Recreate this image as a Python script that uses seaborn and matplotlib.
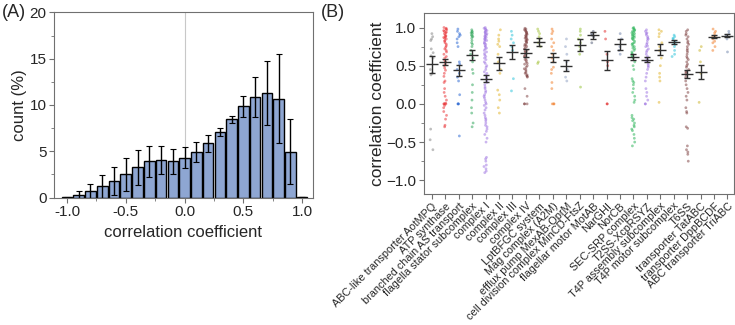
import numpy as np
import pandas as pd
import matplotlib
matplotlib.use("Agg")
import matplotlib.pyplot as plt
import seaborn as sns
from matplotlib.ticker import MultipleLocator

sns.set_style("ticks")
plt.rcParams['font.family'] = ['Liberation Sans', 'DejaVu Sans']

# --- (A) histogram of correlation coefficients ---
bin_centers = [-1.0, -0.9, -0.8, -0.7, -0.6, -0.5, -0.4, -0.3, -0.2, -0.1, 0.0,
               0.1, 0.2, 0.3, 0.4, 0.5, 0.6, 0.7, 0.8, 0.9, 1.0]
count_pct = [0.05, 0.3, 0.7, 1.2, 1.8, 2.5, 3.25, 3.9, 4.05, 3.9, 4.3,
             4.9, 5.85, 7.1, 8.45, 9.85, 10.85, 11.25, 10.65, 4.95, 0.05]
count_err = [0.05, 0.45, 0.8, 1.2, 1.55, 1.8, 1.9, 1.7, 1.5, 1.35, 1.15,
             1.05, 0.95, 0.45, 0.35, 1.15, 2.2, 3.45, 4.8, 3.5, 0.0]

# --- (B) correlation coefficient per complex ---
complexes = ["ABC-like transporter AotMPQ", "ATP synthase", "branched chain AS transport",
             "flagella stator subcomplex", "complex I", "complex II", "complex III",
             "complex IV", "LptBFGC system", "Mag complex (A2M)", "efflux pump MexAB-OprM",
             "cell division complex MinCD-FtsZ", "flagellar motor MotAB", "NarGHI", "NorCB",
             "SEC-SRP complex", "T2SS-XcpRSYZ", "T4P assembly subcomplex",
             "T4P motor subcomplex", "T6SS", "transporter TatABC", "transporter DppBCDF",
             "ABC transporter TriABC"]
complex_means = [0.52, 0.55, 0.44, 0.64, 0.33, 0.53, 0.68, 0.67, 0.81, 0.61, 0.50, 0.77,
                 0.90, 0.57, 0.78, 0.61, 0.58, 0.71, 0.81, 0.39, 0.42, 0.88, 0.89]
complex_sem = [0.11, 0.04, 0.075, 0.06, 0.045, 0.08, 0.095, 0.05, 0.055, 0.06, 0.07, 0.075,
               0.045, 0.12, 0.075, 0.04, 0.03, 0.07, 0.02, 0.05, 0.095, 0.02, 0.02]
complex_colors = ['#7f7f7f', '#e8262a', '#1f5fd0', '#22a050', '#9a6ee0', '#e0b020',
                  '#20c0d8', '#7a3a3a', '#a0c030', '#f07820', '#8a9cc0', '#90c030',
                  '#4a5570', '#e02020', '#6a7fa8', '#20b050', '#9a6ee0', '#e0b020',
                  '#20c0d8', '#7a3a3a', '#c8b020', '#f07820', '#6a80a8']

pts_aotmpq = [0.92, 0.88, 0.85, 0.83, 0.72, 0.67, 0.63, 0.6, 0.45, 0.4, 0.38, -0.33, -0.47, -0.6]
pts_atp = [1.0, 0.99, 0.98, 0.97, 0.96, 0.95, 0.94, 0.93, 0.92, 0.9, 0.89, 0.88, 0.87, 0.86,
           0.85, 0.83, 0.82, 0.8, 0.78, 0.76, 0.74, 0.72, 0.7, 0.68, 0.65, 0.62, 0.6, 0.57,
           0.55, 0.52, 0.5, 0.47, 0.44, 0.4, 0.36, 0.3, 0.28, 0.2, 0.15, 0.1, 0.05, 0.01,
           0.0, 0.0, 0.0, -0.02, -0.05, -0.1, -0.15, -0.2, -0.28, -0.3]
pts_branched = [0.98, 0.95, 0.92, 0.9, 0.88, 0.85, 0.8, 0.75, 0.55, 0.52, 0.45, 0.4, 0.35,
                0.3, 0.12, 0.0, 0.0, 0.0, -0.42]
pts_stator = [0.97, 0.95, 0.94, 0.93, 0.92, 0.9, 0.89, 0.88, 0.86, 0.83, 0.8, 0.78, 0.75,
              0.7, 0.65, 0.6, 0.55, 0.45, 0.4, 0.25, 0.15, 0.05, -0.05, -0.12, -0.25, -0.3]
pts_c1 = [1.0, 0.99, 0.98, 0.97, 0.96, 0.95, 0.94, 0.93, 0.92, 0.91, 0.9, 0.89, 0.88, 0.87,
          0.86, 0.85, 0.84, 0.83, 0.82, 0.8, 0.79, 0.78, 0.76, 0.75, 0.73, 0.72, 0.7, 0.68,
          0.66, 0.64, 0.62, 0.6, 0.58, 0.55, 0.53, 0.5, 0.48, 0.45, 0.42, 0.4, 0.38, 0.35,
          0.33, 0.3, 0.28, 0.25, 0.22, 0.2, 0.17, 0.15, 0.12, 0.1, 0.08, 0.05, 0.02, 0.0,
          -0.02, -0.05, -0.08, -0.12, -0.15, -0.18, -0.2, -0.22, -0.25, -0.28, -0.3, -0.33,
          -0.36, -0.4, -0.45, -0.5, -0.7, -0.72, -0.75, -0.8, -0.82, -0.85, -0.88, -0.9]
pts_c2 = [0.97, 0.9, 0.85, 0.82, 0.78, 0.75, 0.65, 0.55, 0.45, 0.4, 0.18, 0.12, 0.05, -0.05, -0.12]
pts_c3 = [0.95, 0.9, 0.85, 0.8, 0.75, 0.7, 0.33, 0.17]
pts_c4 = [0.99, 0.98, 0.97, 0.96, 0.95, 0.94, 0.93, 0.92, 0.91, 0.9, 0.89, 0.88, 0.87, 0.86,
          0.85, 0.84, 0.83, 0.82, 0.81, 0.8, 0.78, 0.77, 0.76, 0.75, 0.73, 0.72, 0.7, 0.69,
          0.68, 0.66, 0.65, 0.63, 0.62, 0.6, 0.58, 0.57, 0.55, 0.53, 0.52, 0.5, 0.48, 0.46,
          0.45, 0.43, 0.41, 0.4, 0.38, 0.37, 0.36, 0.35, 0.2, 0.1, 0.0, 0.0, 0.0]
pts_lpt = [0.98, 0.95, 0.92, 0.88, 0.85, 0.8, 0.75, 0.55, 0.53]
pts_mag = [0.98, 0.95, 0.92, 0.85, 0.8, 0.75, 0.7, 0.65, 0.6, 0.55, 0.48, 0.45, 0.4, 0.28,
           0.2, 0.0, 0.0, 0.0]
pts_mex = [0.85, 0.75, 0.65, 0.55, 0.45, 0.35, 0.3]
pts_min = [0.98, 0.95, 0.9, 0.85, 0.8, 0.75, 0.7, 0.65, 0.22]
pts_mot = [0.95, 0.92, 0.9, 0.88, 0.8]
pts_nar = [0.95, 0.85, 0.65, 0.55, 0.5, 0.0, 0.0]
pts_nor = [0.92, 0.85, 0.75, 0.7, 0.65]
pts_sec = [1.0, 0.99, 0.98, 0.97, 0.96, 0.95, 0.94, 0.93, 0.92, 0.91, 0.9, 0.89, 0.88, 0.87,
           0.86, 0.85, 0.84, 0.82, 0.8, 0.79, 0.78, 0.76, 0.75, 0.73, 0.72, 0.7, 0.68, 0.66,
           0.65, 0.63, 0.62, 0.6, 0.55, 0.5, 0.45, 0.33, 0.3, 0.28, 0.25, 0.2, 0.15, 0.1,
           0.05, 0.02, -0.15, -0.18, -0.2, -0.22, -0.25, -0.28, -0.3, -0.33, -0.35, -0.4,
           -0.45, -0.5, -0.55]
pts_t2ss = [0.97, 0.95, 0.93, 0.92, 0.9, 0.88, 0.86, 0.85, 0.83, 0.8, 0.78, 0.76, 0.75,
            0.72, 0.7, 0.68, 0.65, 0.62, 0.6, 0.58, 0.56, 0.55, 0.52, 0.5, 0.48, 0.45, 0.4,
            0.35, 0.3, 0.2, 0.15, 0.1, 0.05, 0.0, 0.0]
pts_t4pa = [0.97, 0.95, 0.92, 0.88, 0.8, 0.75, 0.7, 0.6, 0.5, 0.4, 0.35, 0.3, 0.02]
pts_t4pm = [0.9, 0.88, 0.86, 0.85, 0.82, 0.8, 0.78, 0.75, 0.7, 0.65, 0.62]
pts_t6ss = [0.97, 0.95, 0.92, 0.9, 0.88, 0.85, 0.82, 0.8, 0.78, 0.75, 0.72, 0.7, 0.68, 0.65,
            0.62, 0.6, 0.58, 0.55, 0.52, 0.5, 0.48, 0.45, 0.43, 0.42, 0.4, 0.38, 0.35, 0.3,
            0.25, 0.2, 0.15, 0.1, 0.05, -0.05, -0.1, -0.12, -0.3, -0.32, -0.55, -0.6, -0.63,
            -0.66, -0.75]
pts_tat = [0.75, 0.7, 0.55, 0.4, 0.02]
pts_dpp = [0.98, 0.95, 0.93, 0.9, 0.88, 0.87, 0.85, 0.82, 0.8, 0.75, 0.7]
pts_tri = [0.95, 0.92, 0.9, 0.88, 0.85, 0.68]

complex_points = [pts_aotmpq, pts_atp, pts_branched, pts_stator, pts_c1, pts_c2, pts_c3,
                  pts_c4, pts_lpt, pts_mag, pts_mex, pts_min, pts_mot, pts_nar, pts_nor,
                  pts_sec, pts_t2ss, pts_t4pa, pts_t4pm, pts_t6ss, pts_tat, pts_dpp, pts_tri]

strip_df = pd.DataFrame({
    'complex': [c for c, p in zip(complexes, complex_points) for _ in p],
    'r': [v for p in complex_points for v in p],
})

frame_col = '#707070'

fig = plt.figure(figsize=(7.35, 3.25), dpi=100)
ax_a = fig.add_axes([0.0735, 0.392, 0.352, 0.570])
ax_b = fig.add_axes([0.577, 0.403, 0.421, 0.557])

# --- PANEL A ---
ax_a.axvline(0, color='#c8c8c8', lw=0.8, zorder=0)
sns.barplot(x=bin_centers, y=count_pct, native_scale=True, width=0.9,
            color='#8ea6d2', edgecolor='black', linewidth=1.0, saturation=1,
            errorbar=None, ax=ax_a)
ax_a.errorbar(bin_centers, count_pct, yerr=count_err, fmt='none', ecolor='black',
              elinewidth=1.0, capsize=2.2, capthick=0.8)
ax_a.set_xlim(-1.11, 1.09)
ax_a.set_ylim(0, 20)
ax_a.xaxis.set_major_locator(MultipleLocator(0.5))
ax_a.xaxis.set_minor_locator(MultipleLocator(0.25))
ax_a.yaxis.set_major_locator(MultipleLocator(5))
ax_a.yaxis.set_minor_locator(MultipleLocator(2.5))
ax_a.set_xticklabels([f'{v:.1f}' for v in ax_a.get_xticks()])
ax_a.set_xlabel('correlation coefficient', fontsize=12)
ax_a.set_ylabel('count (%)', fontsize=12, labelpad=2)

# --- PANEL B ---
sns.stripplot(data=strip_df, x='complex', y='r', hue='complex', order=complexes,
              hue_order=complexes, palette=complex_colors, legend=False,
              jitter=0.12, size=2.0, alpha=0.5, linewidth=0, ax=ax_b)
ax_b.errorbar(np.arange(len(complexes)), complex_means, yerr=complex_sem, fmt='_',
              color='#303030', markersize=9, markeredgewidth=1.0, elinewidth=1.0,
              capsize=2.4, capthick=1.0, zorder=5)
ax_b.set_xlim(-0.57, 22.45)
ax_b.set_ylim(-1.18, 1.19)
ax_b.yaxis.set_major_locator(MultipleLocator(0.5))
ax_b.yaxis.set_minor_locator(MultipleLocator(0.25))
ax_b.set_xticks(np.arange(len(complexes)))
ax_b.set_xticklabels(complexes, rotation=45, ha='right', rotation_mode='anchor', fontsize=7.8)
ax_b.set_xlabel('')
ax_b.set_ylabel('correlation coefficient', fontsize=12.5, labelpad=1)

for ax in (ax_a, ax_b):
    for sp in ax.spines.values():
        sp.set_visible(True)
        sp.set_color(frame_col)
        sp.set_linewidth(0.8)
    ax.tick_params(which='major', direction='out', length=3.5, width=0.8, color=frame_col,
                   labelsize=11, pad=2)
    ax.tick_params(which='minor', direction='out', length=2, width=0.6, color=frame_col)
ax_b.tick_params(axis='x', which='major', labelsize=7.8, pad=1.5)

fig.text(0.002, 0.962, '(A)', fontsize=13, va='center', ha='left')
fig.text(0.437, 0.962, '(B)', fontsize=13, va='center', ha='left')

fig.savefig('out.png', dpi=100)
